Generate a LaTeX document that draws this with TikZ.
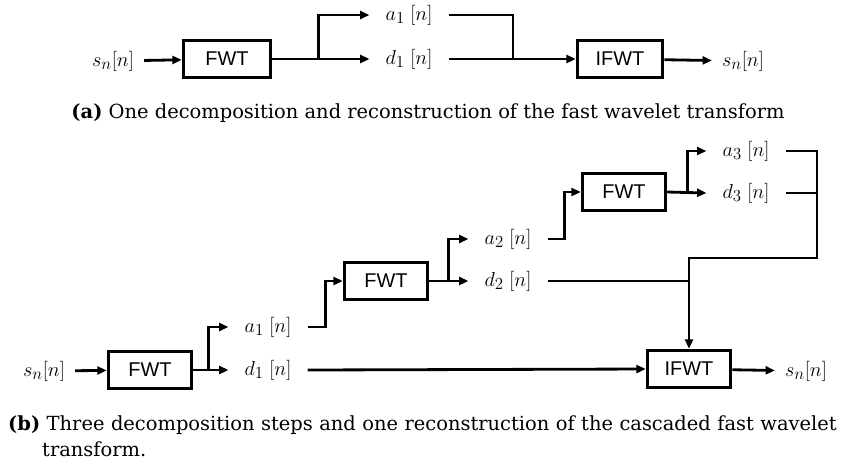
\documentclass[tikz,border=0pt]{standalone}
\usepackage{fontspec}
\setmainfont{Liberation Serif}
\setsansfont{Liberation Sans}
\newfontfamily\capfont{DejaVu Serif}
\usetikzlibrary{arrows.meta}
\begin{document}
\begin{tikzpicture}[x=0.03cm,y=-0.03cm,
  blk/.style={draw,line width=2.8pt,minimum width=2.5cm,minimum height=1.12cm,font=\sffamily\fontsize{17}{20}\selectfont},
  lbl/.style={inner xsep=0.48cm,inner ysep=0pt,font=\fontsize{19}{22}\selectfont},
  sig/.style={lbl,inner xsep=0.3cm},
  conn/.style={line width=2.4pt},
  arr/.style={conn,-{Triangle[length=2.8mm,width=2.4mm]}},
  captext/.style={font=\capfont\fontsize{16.6}{23}\selectfont}]
\useasboundingbox (0,0) rectangle (843,463);
% (a) one level
\node[sig] (sa) at (113,61) {$s_n[n]$};
\node[blk,minimum width=2.62cm] (fwta) at (227,59) {FWT};
\node[lbl] (a1a) at (409,15) {$a_1\ [n]$};
\node[lbl] (d1a) at (409,59) {$d_1\ [n]$};
\node[blk,minimum width=2.56cm] (ifwta) at (620,59) {IFWT};
\node[sig] (sa2) at (743,61) {$s_n[n]$};
\coordinate (ma) at (513,59);
\draw[arr] (sa) -- (fwta);
\draw[arr] (fwta.east) -- ++(46,0) |- (a1a.west);
\draw[arr] (fwta.east) -- (d1a.west);
\draw[conn] (a1a.east) -| (ma);
\draw[arr] (d1a.east) -- (ifwta.west);
\draw[arr] (ifwta) -- (sa2);
\node[captext] (capa) at (428,113)
  {\textbf{(a)} One decomposition and reconstruction of the fast wavelet transform};
% (b) three levels
\node[sig] (sb) at (44,371) {$s_n[n]$};
\node[blk] (fwt1) at (150,370) {FWT};
\node[lbl] (a1b) at (268,327) {$a_1\ [n]$};
\node[lbl] (d1b) at (268,370) {$d_1\ [n]$};
\node[blk] (fwt2) at (386,281) {FWT};
\node[lbl] (a2b) at (508,239) {$a_2\ [n]$};
\node[lbl] (d2b) at (508,281) {$d_2\ [n]$};
\node[blk] (fwt3) at (624,192) {FWT};
\node[lbl] (a3b) at (746,151) {$a_3\ [n]$};
\node[lbl] (d3b) at (746,193) {$d_3\ [n]$};
\node[blk] (ifwtb) at (689,369) {IFWT};
\node[sig] (sb2) at (806,371) {$s_n[n]$};
\coordinate (cv) at (817,258);
\draw[arr] (sb) -- (fwt1);
\draw[arr] (fwt1.east) -- ++(15,0) |- (a1b.west);
\draw[arr] (fwt1.east) -- (d1b.west);
\draw[arr] (a1b.east) -- ++(18,0) |- (fwt2.west);
\draw[arr] (fwt2.east) -- ++(19,0) |- (a2b.west);
\draw[arr] (fwt2.east) -- (d2b.west);
\draw[arr] (a2b.east) -- ++(17,0) |- (fwt3.west);
\draw[arr] (fwt3.east) -- ++(20,0) |- (a3b.west);
\draw[arr] (fwt3.east) -- (d3b.west);
\draw[arr] (a3b.east) -| (cv) -| (ifwtb.north);
\draw[conn] (d3b.east) -- (d3b.east -| cv);
\draw[conn] (d2b.east) -- (d2b.east -| ifwtb.north);
\draw[arr] (d1b.east) -- (ifwtb.west);
\draw[arr] (ifwtb) -- (sb2);
\node[captext,anchor=north west,align=left,text width=25.5cm,inner sep=0pt] (capb) at (8,415)
  {\textbf{(b)} Three decomposition steps and one reconstruction of the cascaded fast wavelet\\\hspace*{1.02cm}transform.};
\end{tikzpicture}
\end{document}
